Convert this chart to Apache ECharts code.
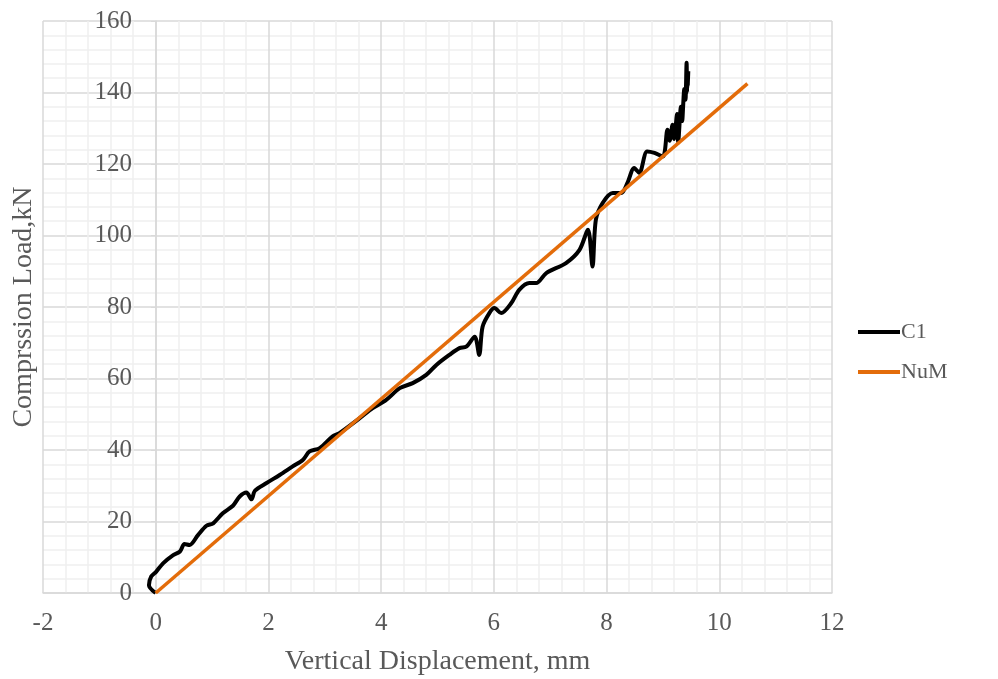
<!DOCTYPE html>
<html>
<head>
<meta charset="utf-8">
<script src="https://cdn.jsdelivr.net/npm/echarts@6/dist/echarts.min.js"></script>
<style>
  html, body { margin: 0; padding: 0; background: #fff; }
  #chart { width: 998px; height: 679px; }
</style>
</head>
<body>
<div id="chart"></div>
<script>
// C1 test curve: [displacement mm, load kN]
const c1Points = [
  [0.00, 0.0], [-0.12, 2.2], [-0.08, 4.6], [0.01, 6.0], [0.13, 8.3], [0.31, 10.6],
  [0.43, 11.6], [0.51, 13.7], [0.60, 13.4], [0.75, 16.2], [0.90, 18.8], [1.02, 19.5],
  [1.19, 22.3], [1.37, 24.4], [1.49, 27.0], [1.61, 28.1], [1.70, 26.2], [1.76, 28.6],
  [1.96, 30.7], [2.20, 33.0], [2.43, 35.4], [2.61, 37.2], [2.73, 39.6], [2.91, 40.5],
  [3.14, 43.8], [3.26, 44.7], [3.62, 48.9], [3.85, 51.7], [4.09, 54.0], [4.33, 57.3],
  [4.56, 58.7], [4.80, 61.0], [4.98, 63.8], [5.21, 66.6], [5.39, 68.5], [5.51, 68.9],
  [5.66, 71.7], [5.74, 66.6], [5.80, 74.5], [5.92, 78.3], [6.01, 79.7], [6.13, 78.3],
  [6.31, 81.1], [6.45, 84.8], [6.63, 86.7], [6.75, 86.7], [6.93, 89.5], [7.28, 92.3],
  [7.52, 96.0], [7.67, 101.6], [7.75, 91.3], [7.81, 104.4], [7.93, 109.1], [8.11, 111.9],
  [8.26, 111.9], [8.37, 114.7], [8.49, 118.9], [8.58, 117.5], [8.72, 123.5], [8.85, 123.1],
  [9.00, 122.1], [9.08, 129.6], [9.12, 126.5], [9.17, 131.0], [9.20, 127.0], [9.25, 134.0],
  [9.27, 126.0], [9.32, 136.0], [9.34, 132.0], [9.38, 141.0], [9.40, 138.0], [9.42, 148.3],
  [9.43, 140.0], [9.45, 146.0], [9.44, 142.0]
];
// NuM numerical model: straight line
const numPoints = [[0.0, 0.0], [10.5, 142.5]];

const xTicks = { min: -2, max: 12, interval: 2 };
const yTicks = { min: 0, max: 160, interval: 20 };

const chart = echarts.init(document.getElementById('chart'));

const labelFont = { fontFamily: 'Liberation Serif', fontSize: 25, color: '#595959' };
const titleFont = { fontFamily: 'Liberation Serif', fontSize: 28, color: '#595959' };

// y axis crosses the x axis at 0: shift it in from the grid's left edge
const gridLeft = 43;
const gridRight = 166;
const yAxisShift = -Math.round((998 - gridLeft - gridRight) * (0 - xTicks.min) / (xTicks.max - xTicks.min));

chart.setOption({
  animation: false,
  grid: { left: gridLeft, right: gridRight, top: 21, bottom: 86, containLabel: false, outerBoundsMode: 'none' },
  legend: {
    orient: 'vertical',
    left: 853,
    top: 316,
    itemWidth: 42,
    itemHeight: 4,
    itemGap: 18,
    icon: 'rect',
    textStyle: { fontFamily: 'Liberation Serif', fontSize: 22, color: '#595959', padding: [0, 0, 0, -4] },
    data: ['C1', 'NuM']
  },
  xAxis: {
    type: 'value',
    min: xTicks.min,
    max: xTicks.max,
    interval: xTicks.interval,
    name: 'Vertical Displacement, mm',
    nameLocation: 'middle',
    nameGap: 55,
    nameTextStyle: titleFont,
    axisLine: { show: true, lineStyle: { color: '#d9d9d9', width: 1.5 } },
    axisTick: { show: false },
    axisLabel: Object.assign({ margin: 18 }, labelFont),
    splitLine: { show: true, lineStyle: { color: '#d9d9d9', width: 1.5 } },
    minorTick: { show: false, splitNumber: 5 },
    minorSplitLine: { show: true, lineStyle: { color: '#efefef', width: 1.5 } }
  },
  yAxis: {
    type: 'value',
    position: 'left',
    offset: yAxisShift,
    min: yTicks.min,
    max: yTicks.max,
    interval: yTicks.interval,
    name: 'Comprssion Load,kN',
    nameLocation: 'middle',
    nameGap: 118,
    nameTextStyle: titleFont,
    axisLine: { show: true, lineStyle: { color: '#d9d9d9', width: 1.5 } },
    axisTick: { show: true, length: 5, lineStyle: { color: '#d9d9d9' } },
    axisLabel: Object.assign({ margin: 24 }, labelFont),
    splitLine: { show: true, lineStyle: { color: '#d9d9d9', width: 1.5 } },
    minorTick: { show: false, splitNumber: 5 },
    minorSplitLine: { show: true, lineStyle: { color: '#efefef', width: 1.5 } }
  },
  series: [
    {
      name: 'C1',
      type: 'line',
      data: c1Points,
      showSymbol: false,
      smooth: 0.3,
      color: '#000000',
      lineStyle: { width: 4, color: '#000000' },
      z: 3
    },
    {
      name: 'NuM',
      type: 'line',
      data: numPoints,
      showSymbol: false,
      color: '#e36c0a',
      lineStyle: { width: 3.5, color: '#e36c0a' },
      z: 4
    }
  ]
});
</script>
</body>
</html>
